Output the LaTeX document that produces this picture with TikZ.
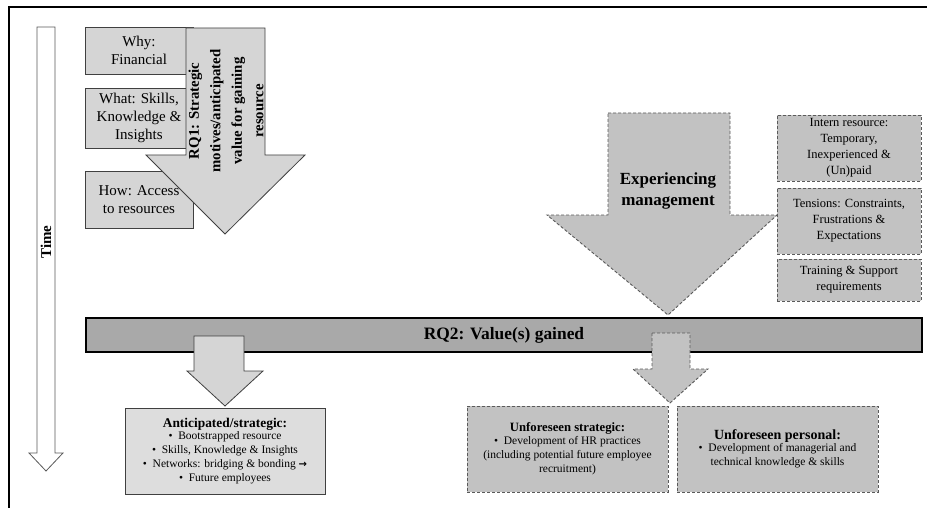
\documentclass[tikz,border=0pt]{standalone}
\usepackage{fontspec}
\setmainfont{Liberation Serif}
\newfontfamily\arrowfont{DejaVu Sans}
\definecolor{edgegray}{HTML}{404040}
\definecolor{dashgray}{HTML}{5A5A5A}
\definecolor{lightfill}{HTML}{D5D5D5}
\definecolor{midfill}{HTML}{C2C2C2}
\definecolor{barfill}{HTML}{A9A9A9}
\begin{document}
\begin{tikzpicture}[x=1pt,y=-1pt,
  solidbox/.style={draw=edgegray, line width=0.8pt, fill=lightfill, inner sep=0pt, align=center},
  dashbox/.style={draw=dashgray, line width=0.9pt, dash pattern=on 3pt off 2pt, fill=midfill, inner sep=0pt, align=center},
  solidarrow/.style={draw=edgegray, line width=0.8pt, fill=lightfill},
  dasharrow/.style={draw=dashgray, line width=0.9pt, dash pattern=on 3pt off 2pt, fill=midfill},
  bigtxt/.style={font=\fontsize{15}{18}\selectfont},
  midtxt/.style={font=\fontsize{12.5}{16}\selectfont},
  smalltxt/.style={font=\fontsize{11.5}{14}\selectfont}]
\useasboundingbox (0,0) rectangle (927,508);
% frame
\draw[line width=1.2pt, black] (9,508) -- (9,7) -- (927,7);
% time arrow
\draw[draw=gray!70!black, line width=0.8pt, fill=white]
  (37,27) -- (55,27) -- (55,453) -- (63,453) -- (46,471) -- (29,453) -- (37,453) -- cycle;
\node[rotate=90, font=\bfseries\fontsize{15}{18}\selectfont] (time) at (46,242) {Time};
% left boxes
\node[solidbox, bigtxt, minimum width=108pt, minimum height=47pt] (why) at (139,50.5) {Why:\\Financial};
\node[solidbox, bigtxt, minimum width=108pt, minimum height=60pt] (what) at (139,118) {What: Skills,\\Knowledge \&\\Insights};
\node[solidbox, bigtxt, minimum width=108pt, minimum height=57pt] (how) at (139,199.5) {How: Access\\to resources};
% RQ1 arrow
\draw[solidarrow] (186,28) -- (265,28) -- (265,155) -- (305,155) -- (225,234) -- (146,155) -- (186,155) -- cycle;
\node[rotate=90, align=center, font=\bfseries\fontsize{14.8}{21.5}\selectfont] (rq1) at (226,111)
  {RQ1: Strategic\\motives/anticipated\\value for gaining\\resource};
% experiencing management arrow
\draw[dasharrow] (608,113) -- (730,113) -- (730,215) -- (777,215) -- (668,315) -- (547,215) -- (608,215) -- cycle;
\node[align=center, font=\bfseries\fontsize{17}{21}\selectfont] (exp) at (668,191) {Experiencing\\management};
% right boxes
\node[dashbox, midtxt, minimum width=144pt, minimum height=66pt] (intern) at (849,148) {Intern resource:\\Temporary,\\Inexperienced \&\\(Un)paid};
\node[dashbox, midtxt, minimum width=144pt, minimum height=66pt] (tens) at (849,221) {Tensions: Constraints,\\Frustrations \&\\Expectations};
\node[dashbox, midtxt, minimum width=144pt, minimum height=42pt] (train) at (849,280) {Training \& Support\\requirements};
% RQ2 bar
\node[draw=black, line width=1.6pt, fill=barfill, minimum width=836pt, minimum height=34pt, inner sep=0pt,
  font=\bfseries\fontsize{17.4}{20}\selectfont] (rq2) at (504,335) {RQ2: Value(s) gained};
% small arrows
\draw[solidarrow] (194,336) -- (244,336) -- (244,371) -- (263,371) -- (225,406) -- (187,371) -- (194,371) -- cycle;
\draw[dasharrow] (652,333) -- (690,333) -- (690,369) -- (708,369) -- (670,403) -- (633,369) -- (652,369) -- cycle;
% bottom boxes
\node[solidbox, fill=lightfill!80!white, minimum width=200pt, minimum height=86pt,
  smalltxt] (antic) at (225,451)
  {{\bfseries\fontsize{13.4}{15}\selectfont Anticipated/strategic:}\\[-2pt]
   •\ \ Bootstrapped resource\\
   •\ \ Skills, Knowledge \& Insights\\
   •\ \ Networks: bridging \& bonding {\arrowfont\bfseries\fontsize{10}{10}\selectfont →}\\
   •\ \ Future employees};
\node[dashbox, minimum width=201pt, minimum height=86pt,
  smalltxt] (ustrat) at (567.5,449)
  {{\bfseries\fontsize{12.7}{15}\selectfont Unforeseen strategic:}\\[-1pt]
   •\ \ Development of HR practices\\
   (including potential future employee\\
   recruitment)};
\node[dashbox, minimum width=201pt, minimum height=86pt,
  smalltxt] (upers) at (777.5,449)
  {{\bfseries\fontsize{14}{16}\selectfont Unforeseen personal:}\\[-2pt]
   •\ \ Development of managerial and\\
   technical knowledge \& skills};
\end{tikzpicture}
\end{document}
